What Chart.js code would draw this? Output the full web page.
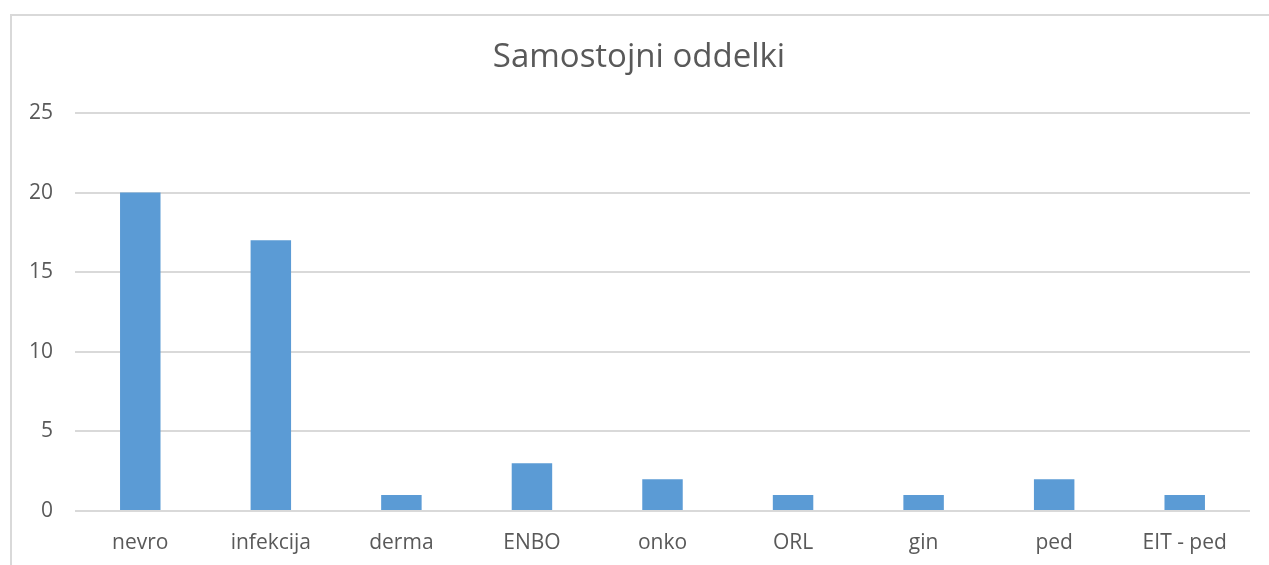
<!DOCTYPE html>
<html>
<head>
<meta charset="utf-8">
<script src="https://cdn.jsdelivr.net/npm/chart.js@4/dist/chart.umd.min.js"></script>
<style>
  html, body { margin: 0; padding: 0; background: #fff; }
  #wrap { position: relative; width: 1269px; height: 565px; overflow: hidden; }
  #frame {
    position: absolute; left: 10px; top: 14px; width: 1300px; height: 600px;
    border: 2px solid #d9d9d9; box-sizing: border-box; pointer-events: none;
  }
  canvas { position: absolute; left: 0; top: 0; }
</style>
</head>
<body>
<div id="wrap">
  <canvas id="chart" width="1269" height="565"></canvas>
  <div id="frame"></div>
</div>
<script>
const CATEGORIES = ['nevro', 'infekcija', 'derma', 'ENBO', 'onko', 'ORL', 'gin', 'ped', 'EIT - ped'];
const VALUES = [20, 17, 1, 3, 2, 1, 1, 2, 1];
const Y_MAX = 25;
const Y_STEP = 5;

const FONT = "'Open Sans', 'Noto Sans', sans-serif";
const TEXT_COLOR = '#595959';
const GRID_COLOR = '#d9d9d9';

const ctx = document.getElementById('chart').getContext('2d');

new Chart(ctx, {
  type: 'bar',
  data: {
    labels: CATEGORIES,
    datasets: [{
      label: 'Samostojni oddelki',
      data: VALUES,
      backgroundColor: '#5b9bd5',
      borderWidth: 0,
      categoryPercentage: 1,
      barPercentage: 0.31,
    }]
  },
  options: {
    responsive: false,
    animation: false,
    layout: {
      // a bit of left padding nudges the title centre right
      padding: { left: 28, right: 19, top: 0, bottom: 0 },
    },
    plugins: {
      legend: { display: false },
      tooltip: { enabled: false },
      title: {
        display: true,
        text: 'Samostojni oddelki',
        color: TEXT_COLOR,
        font: { family: FONT, size: 33, weight: 'normal', lineHeight: 1.2 },
        padding: { top: 38, bottom: 35.4 },
      }
    },
    scales: {
      x: {
        grid: { display: false, drawTicks: false },
        border: { display: false },
        ticks: {
          color: TEXT_COLOR,
          font: { family: FONT, size: 21 },
          padding: 19,
          maxRotation: 0,
        },
        afterFit: s => { s.height = 54; },
      },
      y: {
        min: 0,
        max: Y_MAX,
        grid: { color: GRID_COLOR, lineWidth: 2, drawTicks: false },
        border: { display: false },
        ticks: {
          stepSize: Y_STEP,
          color: TEXT_COLOR,
          font: { family: FONT, size: 21 },
          padding: 22,
        },
        afterFit: s => { s.width = 47; },
      }
    }
  }
});
</script>
</body>
</html>
